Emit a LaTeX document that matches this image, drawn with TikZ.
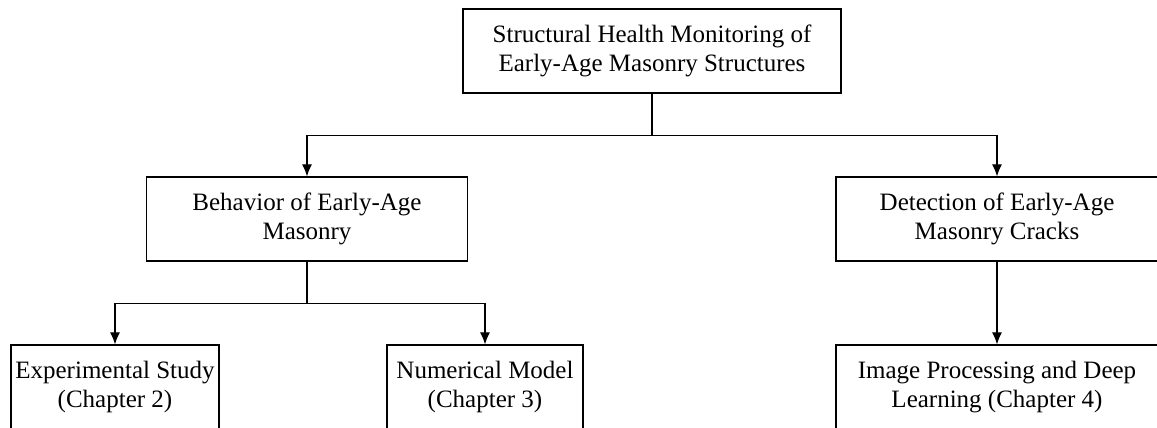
\documentclass[tikz,border=0pt]{standalone}
\usepackage{fontspec}
\setmainfont{Liberation Serif}
\usetikzlibrary{arrows.meta}

\begin{document}
\begin{tikzpicture}[x=0.5pt, y=0.5pt, line width=0.6pt,
    box/.style={rectangle, draw, align=center, minimum height=42pt, inner sep=0pt,
      font=\fontsize{12.5}{14.4}\selectfont},
    level distance=84pt,
    level 1/.style={sibling distance=345pt},
    level 2/.style={sibling distance=185pt},
    edge from parent/.style={draw, -{Latex[length=6pt,width=5pt]}},
    edge from parent path={(\tikzparentnode.south) -- ++(0,-21pt) -| (\tikzchildnode.north)}
    ]
    \useasboundingbox (0,0) rectangle (1157,428);
    \clip (0,0) rectangle (1157,428);
    \node[box, minimum width=189pt] (shm) at (652,377) {Structural Health Monitoring of\\Early-Age Masonry Structures}
      child {node[box, minimum width=160.5pt] (behavior) {Behavior of Early-Age\\Masonry}
        child {node[box, minimum width=104pt, xshift=-3.5pt] (experiment) {Experimental Study\\(Chapter 2)}}
        child {node[box, minimum width=98pt, xshift=-3.5pt] (numerical) {Numerical Model\\(Chapter 3)}}
      }
      child {node[box, minimum width=161pt] (detection) {Detection of Early-Age\\Masonry Cracks}
        child {node[box, minimum width=161pt] (imaging) {Image Processing and Deep\\Learning (Chapter 4)}}
      };
  \end{tikzpicture}
\end{document}
